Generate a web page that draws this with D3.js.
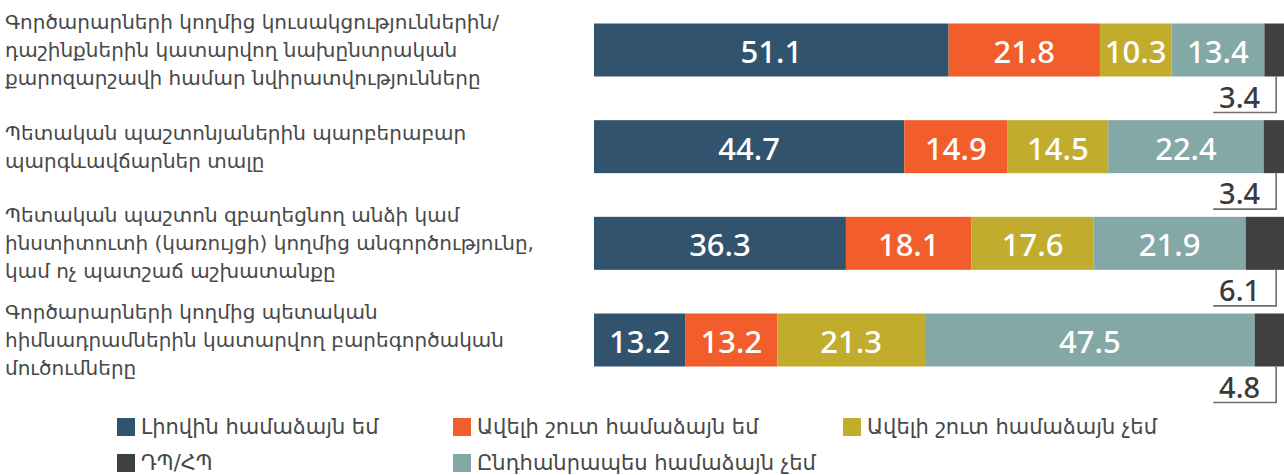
<!DOCTYPE html>
<html>
<head>
<meta charset="utf-8">
<script src="https://cdn.jsdelivr.net/npm/d3@7"></script>
<style>
  body { margin: 0; background: #fff; }
  svg { display: block; }
</style>
</head>
<body>
<script>
// category labels, already broken into lines as in the source
const categories = [
  ['Գործարարների կողմից կուսակցություններին/', 'դաշինքներին կատարվող նախընտրական', 'քարոզարշավի համար նվիրատվությունները'],
  ['Պետական պաշտոնյաներին պարբերաբար', 'պարգևավճարներ տալը'],
  ['Պետական պաշտոն զբաղեցնող անձի կամ', 'ինստիտուտի (կառույցի) կողմից անգործությունը,', 'կամ ոչ պատշաճ աշխատանքը'],
  ['Գործարարների կողմից պետական', 'հիմնադրամներին կատարվող բարեգործական', 'մուծումները']
];

const seriesNames = ['Լիովին համաձայն եմ', 'Ավելի շուտ համաձայն եմ', 'Ավելի շուտ համաձայն չեմ', 'Ընդհանրապես համաձայն չեմ', 'ԴՊ/ՀՊ'];
const colors = ['#32536e', '#f15e2c', '#c2ac2e', '#84a8a5', '#404040'];

const fullyAgree    = [51.1, 44.7, 36.3, 13.2];
const ratherAgree   = [21.8, 14.9, 18.1, 13.2];
const ratherDisagree = [10.3, 14.5, 17.6, 21.3];
const fullyDisagree = [13.4, 22.4, 21.9, 47.5];
const dontKnow      = [3.4, 3.4, 6.1, 4.8];

// legend layout order (row by row)
const legendOrder = [0, 1, 2, 4, 3];

const width = 1284, height = 475;
const seriesValues = [fullyAgree, ratherAgree, ratherDisagree, fullyDisagree, dontKnow];
const armFont = '"DejaVu Sans", sans-serif';

const rows = categories.map((c, i) => {
  const r = { i };
  seriesNames.forEach((s, k) => r[s] = seriesValues[k][i]);
  return r;
});
const stacked = d3.stack().keys(seriesNames)(rows);

const svg = d3.select('body').append('svg')
    .attr('width', width)
    .attr('height', height);

const x = d3.scaleLinear().domain([0, 100]).range([594, 1288]);
const y = d3.scalePoint().domain(d3.range(categories.length)).range([50, 340]);
const barH = 53;

// bars
const layer = svg.append('g').selectAll('g')
  .data(stacked)
  .join('g')
    .attr('fill', (d, k) => colors[k]);

layer.selectAll('rect')
  .data(d => d)
  .join('rect')
    .attr('x', d => x(d[0]))
    .attr('y', d => y(d.data.i) - barH / 2)
    .attr('width', d => x(d[1]) - x(d[0]))
    .attr('height', barH);

// value labels inside bars (all but the last series)
svg.append('g').selectAll('g')
  .data(stacked.slice(0, 4))
  .join('g')
  .selectAll('text')
  .data(d => d)
  .join('text')
    .attr('x', d => (x(d[0]) + x(d[1])) / 2)
    .attr('y', d => y(d.data.i) + 1)
    .attr('text-anchor', 'middle')
    .attr('dominant-baseline', 'central')
    .attr('fill', '#fff')
    .style('font-family', '"Noto Sans", "Open Sans", sans-serif')
    .style('font-size', '31px')
    .style('font-weight', 500)
    .text(d => (d[1] - d[0]).toFixed(1));

// callouts for the last series
const leadX = x(98.3);
const callout = svg.append('g').selectAll('g')
  .data(rows)
  .join('g')
    .attr('transform', d => `translate(0,${y(d.i) + barH / 2})`);

callout.append('path')
    .attr('d', `M${leadX},0V36H${leadX - 63}`)
    .attr('fill', 'none')
    .attr('stroke', '#6e6e6e')
    .attr('stroke-width', 1.6);

callout.append('text')
    .attr('x', leadX - 16)
    .attr('y', 31)
    .attr('text-anchor', 'end')
    .attr('fill', '#3a3a3a')
    .style('font-family', '"Noto Sans", "Open Sans", sans-serif')
    .style('font-size', '29px')
    .style('font-weight', 500)
    .text(d => d3.format('.1f')(d[seriesNames[4]]));

// category labels
const lineH = 28;
svg.append('g').selectAll('text')
  .data(categories)
  .join('text')
    .attr('fill', '#484848')
    .style('font-family', armFont)
    .style('font-size', '20px')
    .each(function(lines, i) {
      d3.select(this).selectAll('tspan')
        .data(lines)
        .join('tspan')
          .attr('x', 5)
          .attr('y', (l, j) => y(i) + (j - (lines.length - 1) / 2) * lineH)
          .attr('dominant-baseline', 'central')
          .text(l => l);
    });

// legend
const legendPos = [[117, 427], [453, 427], [843, 427], [117, 463], [453, 463]];
const legend = svg.append('g').selectAll('g')
  .data(legendOrder)
  .join('g')
    .attr('transform', (k, j) => `translate(${legendPos[j][0]},${legendPos[j][1]})`);

legend.append('rect')
    .attr('x', 0)
    .attr('y', -9)
    .attr('width', 18)
    .attr('height', 18)
    .attr('fill', k => colors[k]);

legend.append('text')
    .attr('x', 24)
    .attr('y', 0)
    .attr('dominant-baseline', 'central')
    .attr('fill', '#484848')
    .style('font-family', armFont)
    .style('font-size', '21px')
    .text(k => seriesNames[k]);
</script>
</body>
</html>
